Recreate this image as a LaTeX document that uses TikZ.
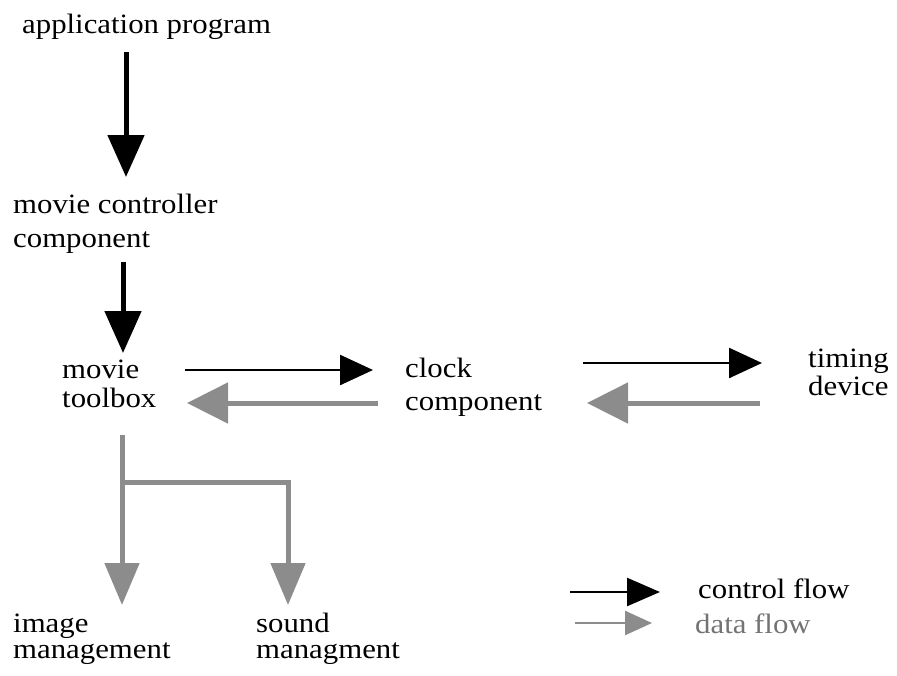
\documentclass[tikz,border=0pt]{standalone}
\usepackage{fontspec}
\setmainfont{Liberation Serif}[FakeStretch=1.1]
\usetikzlibrary{arrows.meta}

\definecolor{flowgray}{gray}{0.55}
\definecolor{labelgray}{gray}{0.45}

\tikzset{
  % multi-line labels are anchored at the baseline of their last line
  lbl/.style={anchor=base west, inner sep=0pt, align=left,
              font=\fontsize{28}{28}\selectfont},
  ctrlbig/.style={line width=5pt, -{Triangle[length=42pt,width=36pt]}},
  ctrl/.style={line width=2.5pt, -{Triangle[length=33pt,width=30pt]}},
  datav/.style={draw=flowgray, line width=5pt,
                -{Triangle[length=42pt,width=34pt,fill=flowgray]}},
  datah/.style={draw=flowgray, line width=5pt,
                -{Triangle[length=41pt,width=40pt,fill=flowgray]}},
}

\begin{document}
\begin{tikzpicture}[x=1pt,y=-1pt]
  \useasboundingbox (0,0) rectangle (897,675);

  % labels
  \node[lbl] (app)   at (22,33)  {application program};
  \node[lbl] (mcc)   at (13,247) {movie controller\\[6pt]component};
  \node[lbl] (mtb)   at (62,407) {movie\\[1pt]toolbox};
  \node[lbl] (clk)   at (405,410){clock\\[5pt]component};
  \node[lbl] (tdev)  at (808,395){timing\\device};
  \node[lbl] (img)   at (13,658) {image\\[-2pt]management};
  \node[lbl] (snd)   at (256,658){sound\\[-2pt]managment};
  \node[lbl] (lctl)  at (698,598){control flow};
  \node[lbl, text=labelgray] (ldat) at (695,633){data flow};

  % connector end points
  \coordinate (app-out)  at (126,52);
  \coordinate (mcc-in)   at (126,177);
  \coordinate (mcc-out)  at (123,262);
  \coordinate (mtb-in)   at (123,353);
  \coordinate (mtb-r)    at (185,370);
  \coordinate (clk-l)    at (373,370);
  \coordinate (clk-lb)   at (378,403);
  \coordinate (mtb-rb)   at (187,403);
  \coordinate (clk-r)    at (583,363);
  \coordinate (tdev-l)   at (762,363);
  \coordinate (tdev-lb)  at (760,403);
  \coordinate (clk-rb)   at (587,403);
  \coordinate (mtb-out)  at (122,435);
  \coordinate (split)    at (122,482);
  \coordinate (img-in)   at (122,605);
  \coordinate (snd-in)   at (288,605);
  \coordinate (lctl-a)   at (570,592);
  \coordinate (lctl-b)   at (660,592);
  \coordinate (ldat-a)   at (575,623);
  \coordinate (ldat-b)   at (652,623);

  % control flow
  \draw[ctrlbig] (app-out) -- (mcc-in);
  \draw[ctrlbig] (mcc-out) -- (mtb-in);
  \draw[ctrl] (mtb-r) -- (clk-l);
  \draw[ctrl] (clk-r) -- (tdev-l);

  % data flow
  \draw[datah] (clk-lb) -- (mtb-rb);
  \draw[datah] (tdev-lb) -- (clk-rb);
  \draw[datav] (mtb-out) -- (img-in);
  \draw[datav] (split) -- (split -| snd-in) -- (snd-in);

  % legend
  \draw[line width=2.5pt, -{Triangle[length=33pt,width=28pt]}] (lctl-a) -- (lctl-b);
  \draw[draw=flowgray, line width=2.5pt,
        -{Triangle[length=27pt,width=24pt,fill=flowgray]}] (ldat-a) -- (ldat-b);
\end{tikzpicture}
\end{document}
